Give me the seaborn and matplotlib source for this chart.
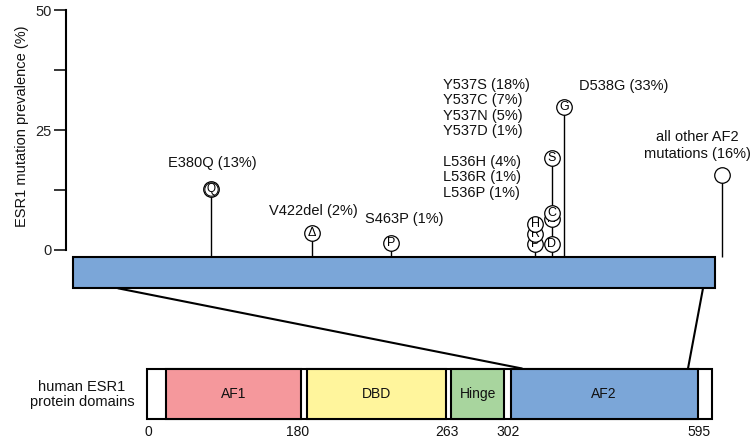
import numpy as np
import pandas as pd
import matplotlib
matplotlib.use("Agg")
import matplotlib.pyplot as plt
import seaborn as sns

sns.set_theme(style="white")
plt.rcParams['font.family'] = ['Liberation Sans', 'DejaVu Sans']

# ---------------- data ----------------
# lollipop heads (schematic x position along AF2 bar, plotted height in % axis units, letter)
circle_x = [211, 312, 391, 535, 535, 535, 552, 552, 552, 552, 564, 722]
circle_height = [12.65, 3.5, 1.4, 1.25, 3.35, 5.4, 1.25, 6.45, 7.7, 19.2, 29.8, 15.6]
circle_letter = ["Q", "Δ", "P", "P", "R", "H", "D", "N", "C", "S", "G", ""]

# mutation labels
label_groups = [
    ["E380Q (13%)"],
    ["V422del (2%)"],
    ["S463P (1%)"],
    ["Y537S (18%)", "Y537C (7%)", "Y537N (5%)", "Y537D (1%)"],
    ["L536H (4%)", "L536R (1%)", "L536P (1%)"],
    ["D538G (33%)"],
    ["all other AF2", "mutations (16%)"],
]

# protein domains
domain_names = ["AF1", "DBD", "Hinge", "AF2"]
domain_start = [165.7, 307.3, 451.0, 510.7]
domain_end = [300.7, 445.7, 504.3, 697.7]
domain_colors = ["#F5989C", "#FFF59C", "#A8D59E", "#7BA6D8"]
domain_ticks = ["0", "180", "263", "302", "595"]
domain_tick_pos = [148.7, 298.0, 446.7, 508.0, 699.0]

y_ticks = [0, 25, 50]
y_minor = [12.5, 37.5]

# ---------------- layout helpers ----------------
W, H = 756, 447
def v(px):
    return (250 - px) / 4.8

fig = plt.figure(figsize=(W / 100, H / 100), dpi=100)
ax = fig.add_axes([0, 0, 1, 1])
ax.set_xlim(0, W)
ax.set_ylim(v(H), v(0))
ax.patch.set_alpha(0)

for s in ["top", "right", "bottom"]:
    ax.spines[s].set_visible(False)
ax.spines["left"].set_position(("data", 65.5))
ax.spines["left"].set_bounds(0, 50)
ax.spines["left"].set_linewidth(1.5)
ax.spines["left"].set_color("black")
ax.set_xticks([])
ax.set_yticks(y_ticks)
ax.set_yticks(y_minor, minor=True)
ax.tick_params(axis="y", which="both", direction="out", length=8.6, width=1.1,
               color="black", left=True, pad=1.5)
ax.tick_params(axis="y", which="major", labelsize=10.5, labelcolor="#222222")
ax.grid(False)

ax.text(22, 25.8, "ESR1 mutation prevalence (%)", rotation=90, ha="center",
        va="center", fontsize=10.5, color="#111111")

# stems
df = pd.DataFrame({"x": circle_x, "h": circle_height, "letter": circle_letter})
stems = df.groupby("x")["h"].max().reset_index()
base = v(256.7)
ax.vlines(stems["x"], base, stems["h"], color="black", lw=1.0, zorder=2)

# AF2 zoom bar
bar_top, bar_bot = 256.7, 288.3
bars = ax.barh(y=(v(bar_top) + v(bar_bot)) / 2, width=715 - 73.3, left=73.3,
               height=v(bar_top) - v(bar_bot), color=domain_colors[3],
               edgecolor="black", linewidth=1.5, zorder=3)

# connector lines
ax.plot([118, 522], [v(288.3), v(368.5)], color="black", lw=1.5, zorder=1)
ax.plot([703, 688], [v(288.3), v(368.5)], color="black", lw=1.5, zorder=1)

# lollipop heads
for i, row in df.iterrows():
    z = 4 + i * 0.1
    sns.scatterplot(x=[row["x"]], y=[row["h"]], ax=ax, s=125, color="white",
                    edgecolor="black", linewidth=0.9, zorder=z, legend=False)
    if row["letter"] == "Q":
        sns.scatterplot(x=[row["x"]], y=[row["h"]], ax=ax, s=92, color="white",
                        edgecolor="black", linewidth=0.7, zorder=z + 0.01, legend=False)
    if row["letter"]:
        ax.text(row["x"], row["h"], row["letter"], ha="center", va="center",
                fontsize=8.5 if row["letter"] == "Q" else 9, color="black",
                zorder=z + 0.02)

# labels
label_pos = [
    (168, [163]),
    (269, [211]),
    (365, [219]),
    (443, [85, 100.3, 115.6, 131]),
    (443, [162, 177.5, 193]),
    (579, [86]),
    (697, [137, 154]),
]
for gi, (lines, (lx, lys)) in enumerate(zip(label_groups, label_pos)):
    for line, ly in zip(lines, lys):
        ax.text(lx, v(ly), line, ha="center" if gi == 6 else "left", va="center",
                fontsize=10.5, color="#111111")

ax.text(82, v(394.5), "human ESR1\nprotein domains", ha="center", va="center",
        fontsize=10.5, color="#111111", linespacing=1.15)

# domain axes
box_top, box_bot = 369.3, 419.3
ax_dom = fig.add_axes([0, (H - box_bot) / H, 1, (box_bot - box_top) / H])
ax_dom.set_xlim(0, W)
ax_dom.set_ylim(0, 1)
ax_dom.patch.set_alpha(0)
for s in ax_dom.spines.values():
    s.set_visible(False)
outer = ax_dom.barh(y=0.5, width=712.3 - 147, left=147, height=1, color="white",
                    edgecolor="black", linewidth=1.5)
dom = ax_dom.barh(y=[0.5] * 4, width=np.array(domain_end) - np.array(domain_start),
                  left=domain_start, height=1, color=domain_colors,
                  edgecolor="black", linewidth=1.5)
for p in list(outer.patches) + list(dom.patches):
    p.set_clip_on(False)
for name, a, b in zip(domain_names, domain_start, domain_end):
    ax_dom.text((a + b) / 2, 0.5, name, ha="center", va="center", fontsize=10,
                color="#111111")
ax_dom.set_yticks([])
ax_dom.set_xticks(domain_tick_pos, domain_ticks)
ax_dom.tick_params(axis="x", length=0, pad=4, labelsize=10, labelcolor="#111111")
ax_dom.grid(False)

fig.savefig("out.png", dpi=100)
